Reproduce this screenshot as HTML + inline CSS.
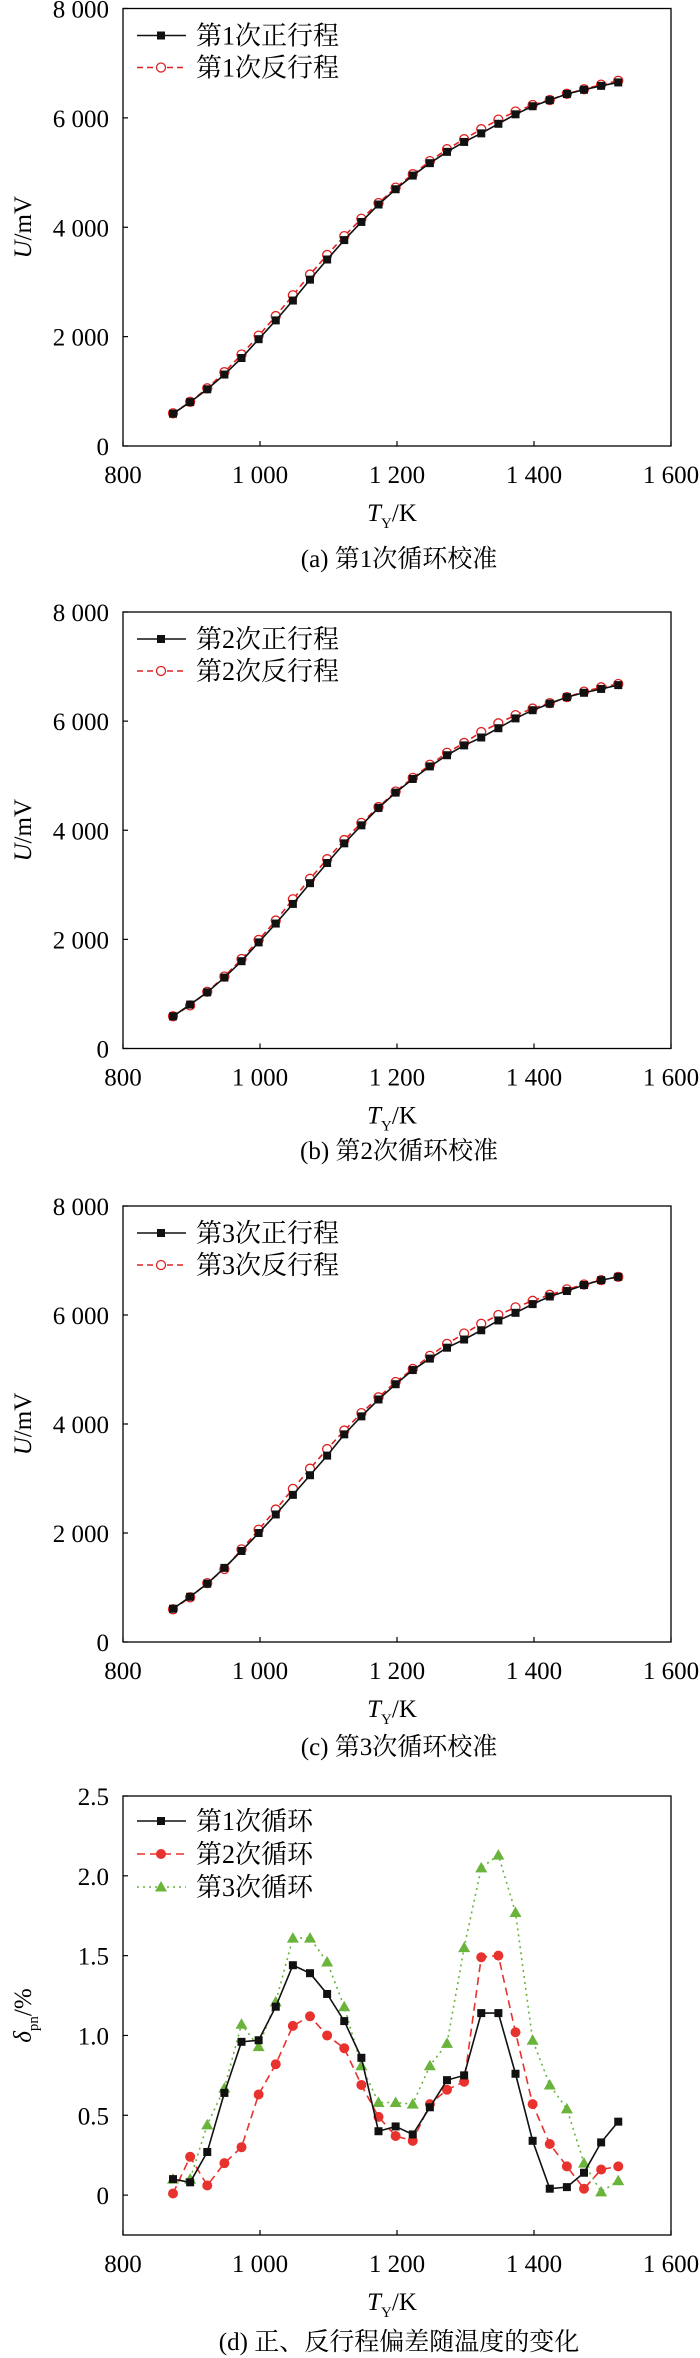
<!DOCTYPE html>
<html><head><meta charset="utf-8">
<style>
html,body{margin:0;padding:0;background:#fff;}
svg{display:block;font-family:"Liberation Serif","Noto Serif CJK SC",serif;}
</style></head>
<body>
<svg id="chart" width="700" height="2358" viewBox="0 0 700 2358" xmlns="http://www.w3.org/2000/svg"></svg>
<script>
const temps = [873,898,923,948,973,998,1023,1048,1073,1098,1123,1148,1173,1198,1223,1248,1273,1298,1323,1348,1373,1398,1423,1448,1473,1498,1523];
const xTicks = [800,1000,1200,1400,1600];
const xTickLabels = ["800","1 000","1 200","1 400","1 600"];
const uTicks = [0,2000,4000,6000,8000];
const uTickLabels = ["0","2 000","4 000","6 000","8 000"];
const dTicks = [0,0.5,1.0,1.5,2.0,2.5];
const dTickLabels = ["0","0.5","1.0","1.5","2.0","2.5"];

const fwd1 = [591,803,1037,1307,1609,1953,2297,2660,3042,3410,3765,4097,4416,4695,4945,5172,5379,5560,5717,5892,6065,6213,6324,6437,6515,6586,6648];
const rev1 = [598,808,1055,1350,1673,2018,2376,2756,3135,3494,3838,4155,4443,4724,4970,5209,5427,5610,5793,5968,6116,6236,6327,6440,6524,6608,6679];
const fwd2 = [590,805,1030,1300,1600,1945,2290,2650,3030,3400,3760,4090,4410,4690,4940,5170,5375,5555,5700,5870,6050,6200,6320,6440,6520,6590,6660];
const rev2 = [590,790,1040,1320,1640,1990,2345,2735,3110,3470,3820,4135,4425,4710,4960,5200,5420,5600,5800,5960,6110,6230,6330,6440,6540,6620,6680];
const fwd3 = [610,830,1070,1360,1670,2000,2340,2700,3060,3420,3810,4140,4450,4730,4990,5200,5400,5550,5720,5900,6040,6200,6340,6440,6550,6640,6700];
const rev3 = [600,820,1080,1340,1700,2060,2430,2810,3180,3540,3880,4200,4490,4770,5010,5250,5470,5660,5840,6000,6140,6260,6370,6470,6560,6640,6700];

const dev1 = [0.10,0.08,0.27,0.64,0.96,0.97,1.18,1.44,1.39,1.26,1.09,0.86,0.40,0.43,0.38,0.55,0.72,0.75,1.14,1.14,0.76,0.34,0.04,0.05,0.14,0.33,0.46];
const dev2 = [0.01,0.24,0.06,0.20,0.30,0.63,0.82,1.06,1.12,1.00,0.92,0.69,0.49,0.37,0.34,0.57,0.66,0.71,1.49,1.50,1.02,0.57,0.32,0.18,0.04,0.16,0.18];
const dev3 = [0.10,0.10,0.44,0.67,1.07,0.93,1.21,1.61,1.61,1.46,1.18,0.81,0.58,0.58,0.57,0.81,0.95,1.55,2.05,2.13,1.77,0.97,0.69,0.54,0.20,0.02,0.09];

const NS="http://www.w3.org/2000/svg";
const svg=document.getElementById('chart');
function mk(tag,attrs,parent){const e=document.createElementNS(NS,tag);for(const k in attrs)e.setAttribute(k,attrs[k]);(parent||svg).appendChild(e);return e;}
const L=123,R=671;
function xs(v){return L+(v-800)/800*(R-L);}

function axes(g,top,bot,ymin,ymax,ticks,labels,ytitle,caption,capY){
  const ys=v=>bot-(v-ymin)/(ymax-ymin)*(bot-top);
  const box=mk('rect',{x:L,y:top,width:R-L,height:bot-top,fill:'none',stroke:'#000','stroke-width':1.3},g);
  
  
  xTicks.forEach((t,i)=>{
    const x=xs(t);
    const tk=mk('line',{x1:x,x2:x,y1:bot,y2:bot-5,stroke:'#000','stroke-width':1.2},g);
    
    
    const tx=mk('text',{x:x,y:bot+37,'text-anchor':'middle','font-size':25},g);
    tx.textContent=xTickLabels[i];
    
    
  });
  ticks.forEach((t,i)=>{
    const y=ys(t);
    const tk=mk('line',{x1:L,x2:L+5,y1:y,y2:y,stroke:'#000','stroke-width':1.2},g);
    
    
    const tx=mk('text',{x:109,y:y+9,'text-anchor':'end','font-size':25},g);
    tx.textContent=labels[i];
    
    
  });
  const xt=mk('text',{x:392,y:bot+75,'text-anchor':'middle','font-size':25},g);
  xt.innerHTML='<tspan font-style="italic">T</tspan><tspan font-size="15" dy="7">Y</tspan><tspan dy="-7">/K</tspan>';
  
  
  const cy=(top+bot)/2;
  const yt=mk('text',{x:0,y:0,'text-anchor':'middle','font-size':25,transform:`translate(31,${cy}) rotate(-90)`},g);
  yt.innerHTML=ytitle;
  
  
  const cp=mk('text',{x:399,y:capY,'text-anchor':'middle','font-size':25},g);
  cp.textContent=caption;
  
  
  return ys;
}
function marker(g,type,x,y,color){
  let m;
  if(type==='sq') m=mk('rect',{x:x-4,y:y-4,width:8,height:8,fill:color},g);
  else if(type==='oc') m=mk('circle',{cx:x,cy:y,r:4.5,fill:'#fff',stroke:color,'stroke-width':1.3},g);
  else if(type==='fc') m=mk('circle',{cx:x,cy:y,r:5,fill:color},g);
  else m=mk('polygon',{points:`${x},${y-6} ${x+6},${y+4.5} ${x-6},${y+4.5}`,fill:color},g);
  return m;
}
function series(g,vals,ys,color,dash,type,name){
  const pts=vals.map((v,i)=>xs(temps[i])+','+ys(v)).join(' ');
  const pl=mk('polyline',{points:pts,fill:'none',stroke:color,'stroke-width':1.6,'stroke-dasharray':dash},g);
  
  
  vals.forEach((v,i)=>{
    const m=marker(g,type,xs(temps[i]),ys(v),color);
    
    
  });
}
function legend(g,x,y,color,dash,type,label){
  const ln=mk('line',{x1:137,x2:186,y1:y,y2:y,stroke:color,'stroke-width':1.6,'stroke-dasharray':dash},g);
  
  
  const m=marker(g,type,161,y,color);
  
  
  const t=mk('text',{x:196,y:y+9,'font-size':26},g);
  t.textContent=label;
  
  
}
const panels=[
 {top:8.5,bot:446,f:fwd1,r:rev1,n:'1',c:'(a) 第1次循环校准',cap:567},
 {top:612,bot:1048.5,f:fwd2,r:rev2,n:'2',c:'(b) 第2次循环校准',cap:1159},
 {top:1206,bot:1642,f:fwd3,r:rev3,n:'3',c:'(c) 第3次循环校准',cap:1755}
];
panels.forEach((p,k)=>{
  const g=mk('g',{});
  
  
  const ys=axes(g,p.top,p.bot,0,8000,uTicks,uTickLabels,'<tspan font-style="italic">U</tspan>/mV',p.c,p.cap);
  series(g,p.r,ys,'#e02020','6,4','oc','reverse-stroke');
  series(g,p.f,ys,'#111','none','sq','forward-stroke');
  legend(g,0,p.top+27,'#111','none','sq','第'+p.n+'次正行程');
  legend(g,0,p.top+59,'#e02020','6,4','oc','第'+p.n+'次反行程');
});
const gd=mk('g',{});


const ysd=axes(gd,1796,2235,-0.25,2.5,dTicks,dTickLabels,'<tspan font-style="italic">δ</tspan><tspan font-size="15" dy="7">pn</tspan><tspan dy="-7">/%</tspan>','(d) 正、反行程偏差随温度的变化',2350);
series(gd,dev3,ysd,'#6ab43c','2,4','tri','cycle-3');
series(gd,dev2,ysd,'#e8322e','8,5','fc','cycle-2');
series(gd,dev1,ysd,'#111','none','sq','cycle-1');
legend(gd,0,1821,'#111','none','sq','第1次循环');
legend(gd,0,1854,'#e8322e','8,5','fc','第2次循环');
legend(gd,0,1887,'#6ab43c','2,4','tri','第3次循环');
</script>
</body></html>
